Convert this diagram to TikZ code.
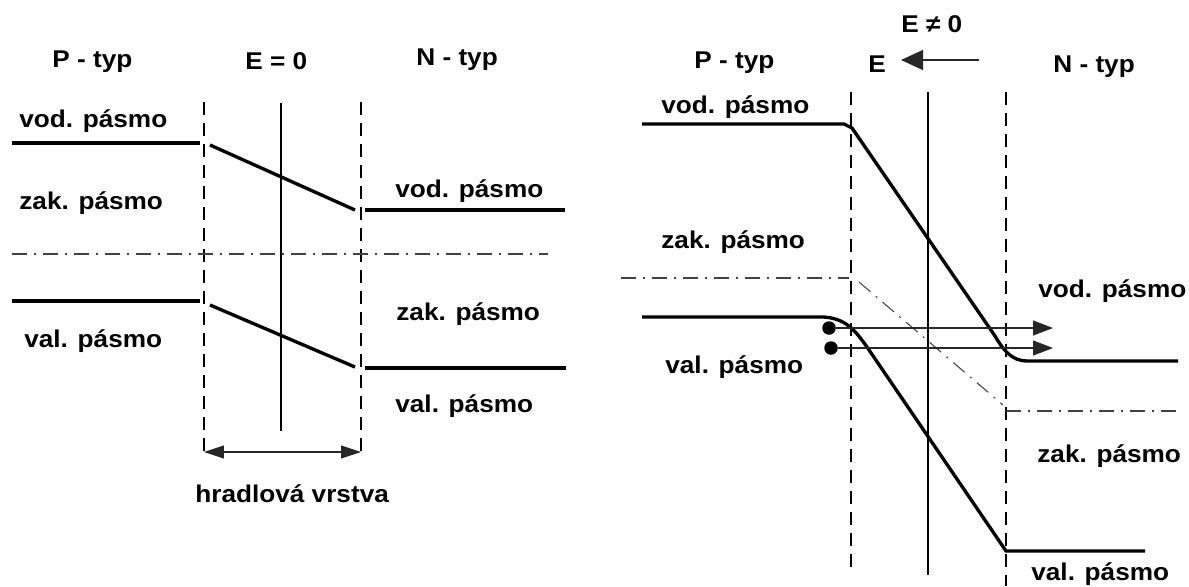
\documentclass[tikz,border=0pt]{standalone}
\usepackage{fontspec}
\setmainfont{Liberation Sans}[FakeStretch=1.08]
\usetikzlibrary{arrows.meta}

\tikzset{
	band/.style={line width=1.9pt},
	junction/.style={line width=1.4pt, dash pattern=on 0.26cm off 0.16cm},
	mid/.style={line width=0.6pt},
	fermi/.style={line width=0.6pt, black!75, dash pattern=on 0.3cm off 0.14cm on 0.04cm off 0.14cm},
	flow/.style={line width=0.6pt, black!85},
	lbl/.style={font=\bfseries\fontsize{13.8}{16}\selectfont, anchor=base west, inner sep=0pt},
	carrier/.style={circle, fill, inner sep=0pt, minimum size=0.27cm},
}

\begin{document}
\begin{tikzpicture}[x=0.02cm,y=-0.02cm]
	\useasboundingbox (0,0) rectangle (1189,586);

	%% Left Junction (E = 0) %%
	\node [lbl] (ptypA) at (52,67) {P - typ};
	\node [lbl] (fieldA) at (245,69) {E = 0};
	\node [lbl] (ntypA) at (416,65) {N - typ};
	\foreach \x in {204,361} \draw [junction] (\x,102) -- (\x,452);
	\draw [mid] (281,103) -- (281,431);
	%% Left Bands %%
	\draw [band] (12,143) -- (200,143);
	\draw [band] (210,145) -- (355,210);
	\draw [band] (365,210) -- (565,210);
	\draw [fermi] (12,254) -- (548,254);
	\draw [band] (12,301) -- (200,301);
	\draw [band] (210,305) -- (355,367);
	\draw [band] (365,368) -- (566,368);
	\node [lbl] (vodA) at (19,127) {vod. pásmo};
	\node [lbl] (zakA) at (19,209) {zak. pásmo};
	\node [lbl] (valA) at (24,347) {val. pásmo};
	\node [lbl] (vodB) at (395,197) {vod. pásmo};
	\node [lbl] (zakB) at (396,320) {zak. pásmo};
	\node [lbl] (valB) at (395,412) {val. pásmo};
	%% Depletion Width %%
	\coordinate (wl) at (204,452);
	\coordinate (wr) at (361,452);
	\draw [flow,{Triangle[length=0.4cm,width=0.26cm]}-{Triangle[length=0.4cm,width=0.26cm]}] (wl) -- (wr);
	\node [lbl] (layer) at (195,502) {hradlová vrstva};

	%% Right Junction (E != 0) %%
	\node [lbl] (fieldC) at (901,32) {E ≠ 0};
	\node [lbl] (ptypC) at (694,68) {P - typ};
	\node [lbl] (efield) at (868,72) {E};
	\node [lbl] (ntypC) at (1053,72) {N - typ};
	\coordinate (etail) at (979,60);
	\coordinate (etip) at (901,60);
	\draw [flow,-{Triangle[length=0.44cm,width=0.4cm]}] (etail) -- (etip);
	\draw [junction] (851,92) -- (851,570);
	\draw [junction] (1006,92) -- (1006,586);
	\draw [mid] (928,92) -- (928,575);
	%% Right Bands %%
	\draw [band] (642,124) -- (844,124) -- (852,128) -- (995,336) .. controls (1003,350) and (1012,361) .. (1027,361) -- (1178,361);
	\draw [fermi] (621,278) -- (849,278);
	\draw [fermi] (859,282) -- (1003,405);
	\draw [fermi] (1006,411) -- (1180,411);
	\draw [band] (642,317) -- (823,317) .. controls (845,318) and (855,330) .. (867,347) -- (1006,551) -- (1145,551);
	\node [lbl] (vodC) at (661,113) {vod. pásmo};
	\node [lbl] (zakC) at (661,248) {zak. pásmo};
	\node [lbl] (valC) at (665,373) {val. pásmo};
	\node [lbl] (vodD) at (1038,297) {vod. pásmo};
	\node [lbl] (zakD) at (1037,462) {zak. pásmo};
	\node [lbl] (valD) at (1031,580) {val. pásmo};
	%% Tunnelling Carriers %%
	\node [carrier] (h1) at (829,328) {};
	\node [carrier] (h2) at (831,348) {};
	\coordinate (t1) at (1053,328);
	\coordinate (t2) at (1053,348);
	\draw [flow,-{Triangle[length=0.4cm,width=0.3cm]}] (h1) -- (t1);
	\draw [flow,-{Triangle[length=0.4cm,width=0.3cm]}] (h2) -- (t2);

\end{tikzpicture}
\end{document}
